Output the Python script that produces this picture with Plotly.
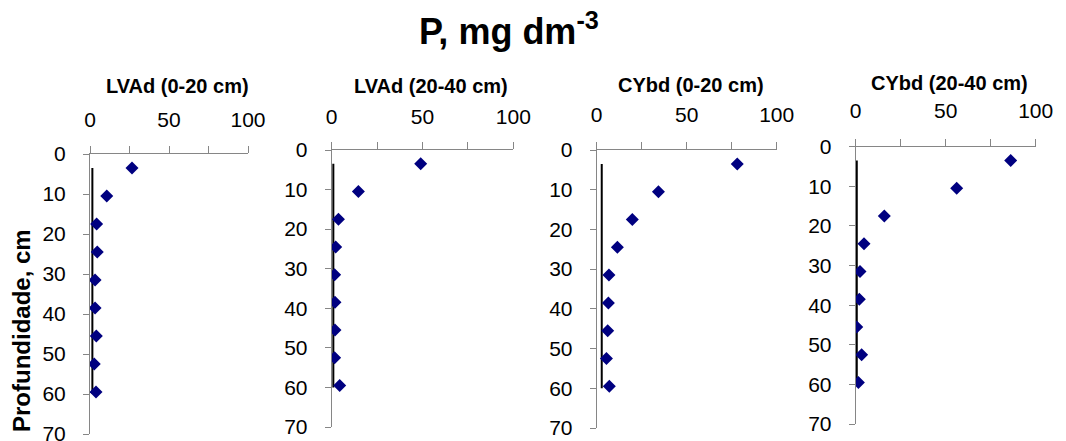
import plotly.graph_objects as go

# ---- data ----
depth = [3.5, 10.5, 17.5, 24.5, 31.5, 38.5, 45.5, 52.5, 59.5]
panel_titles = ["LVAd (0-20 cm)", "LVAd (20-40 cm)", "CYbd (0-20 cm)", "CYbd (20-40 cm)"]
p_lvad_0_20 = [26.6, 10.6, 4.2, 4.6, 3.2, 3.2, 4.0, 2.7, 3.8]
p_lvad_20_40 = [49.0, 14.7, 3.7, 2.2, 1.6, 1.8, 1.8, 1.6, 4.4]
p_cybd_0_20 = [78.1, 34.3, 19.8, 11.5, 6.8, 6.5, 6.1, 5.4, 7.0]
p_cybd_20_40 = [86.1, 56.1, 15.9, 4.6, 2.4, 2.0, 0.6, 3.3, 1.5]
ref_level = [1.5, 0.9, 2.8, 0.6]
ref_depth = [3.5, 60]
x_tick_vals = [0, 50, 100]
y_tick_vals = [0, 10, 20, 30, 40, 50, 60, 70]
main_title = "P, mg dm<sup>-3</sup>"
y_title = "Profundidade, cm"

series = [p_lvad_0_20, p_lvad_20_40, p_cybd_0_20, p_cybd_20_40]

# ---- layout (pixel boxes of each plot area) ----
W, H = 1066, 441
boxes = [  # left, right, top, bottom in px
    (90, 248, 154, 434),
    (331.7, 513.3, 150, 427),
    (596.7, 776.7, 150, 428),
    (855.7, 1035.7, 146.7, 424),
]
x_standoff = [11, 10, 12, 12]
y_standoff = [13, 13, 13, 13]
title_y_px = [86, 86, 85, 83]

FONT = "Liberation Sans, Arial, sans-serif"
GRAY = "#868686"

fig = go.Figure()
layout = dict(
    width=W, height=H,
    margin=dict(l=0, r=0, t=0, b=0, autoexpand=False),
    paper_bgcolor="white", plot_bgcolor="white",
    showlegend=False,
    font=dict(family=FONT, size=21, color="black"),
)
annotations = []
for i, (vals, (l, r, t, b)) in enumerate(zip(series, boxes)):
    n = "" if i == 0 else str(i + 1)
    xa, ya = "x" + n, "y" + n
    fig.add_trace(go.Scatter(
        x=[ref_level[i]] * len(ref_depth), y=ref_depth, mode="lines",
        line=dict(color="black", width=2), xaxis=xa, yaxis=ya, hoverinfo="skip"))
    fig.add_trace(go.Scatter(
        x=vals, y=depth, mode="markers",
        marker=dict(symbol="diamond", size=10, color="#000080"),
        xaxis=xa, yaxis=ya))
    layout["xaxis" + n] = dict(
        domain=[l / W, r / W], anchor=ya, side="top", range=[0, 100],
        tickvals=x_tick_vals, ticks="outside", ticklen=7, tickcolor=GRAY,
        minor=dict(dtick=25, ticks="outside", ticklen=7, tickcolor=GRAY, showgrid=False),
        showline=True, linecolor=GRAY, linewidth=1, showgrid=False, zeroline=False,
        automargin=False, ticklabeloverflow="allow",
        ticklabelstandoff=x_standoff[i], tickfont=dict(size=21, color="black"))
    layout["yaxis" + n] = dict(
        domain=[1 - b / H, 1 - t / H], anchor=xa, range=[70, 0],
        tickvals=y_tick_vals, ticks="outside", ticklen=6, tickcolor=GRAY,
        showline=True, linecolor=GRAY, linewidth=1, showgrid=False, zeroline=False,
        automargin=False, ticklabeloverflow="allow",
        ticklabelstandoff=y_standoff[i], tickfont=dict(size=21, color="black"))
    annotations.append(dict(
        text="<b>" + panel_titles[i] + "</b>", xref="paper", yref="paper",
        x=(l + r) / 2 / W + (0.008 if i < 2 else 0.004), y=1 - title_y_px[i] / H,
        showarrow=False, xanchor="center", yanchor="middle",
        font=dict(family=FONT, size=20, color="black")))

annotations.append(dict(
    text="<b>" + main_title + "</b>", xref="paper", yref="paper",
    x=509 / W, y=1 - 29 / H, showarrow=False, xanchor="center", yanchor="middle",
    font=dict(family=FONT, size=36, color="black")))
annotations.append(dict(
    text="<b>" + y_title + "</b>", xref="paper", yref="paper",
    x=21 / W, y=1 - 331 / H, showarrow=False, xanchor="center", yanchor="middle",
    textangle=-90, font=dict(family=FONT, size=24, color="black")))
layout["annotations"] = annotations
fig.update_layout(**layout)
fig.write_html("out.html", config={"displayModeBar": False},
               post_script="document.body.style.margin='0px';")
